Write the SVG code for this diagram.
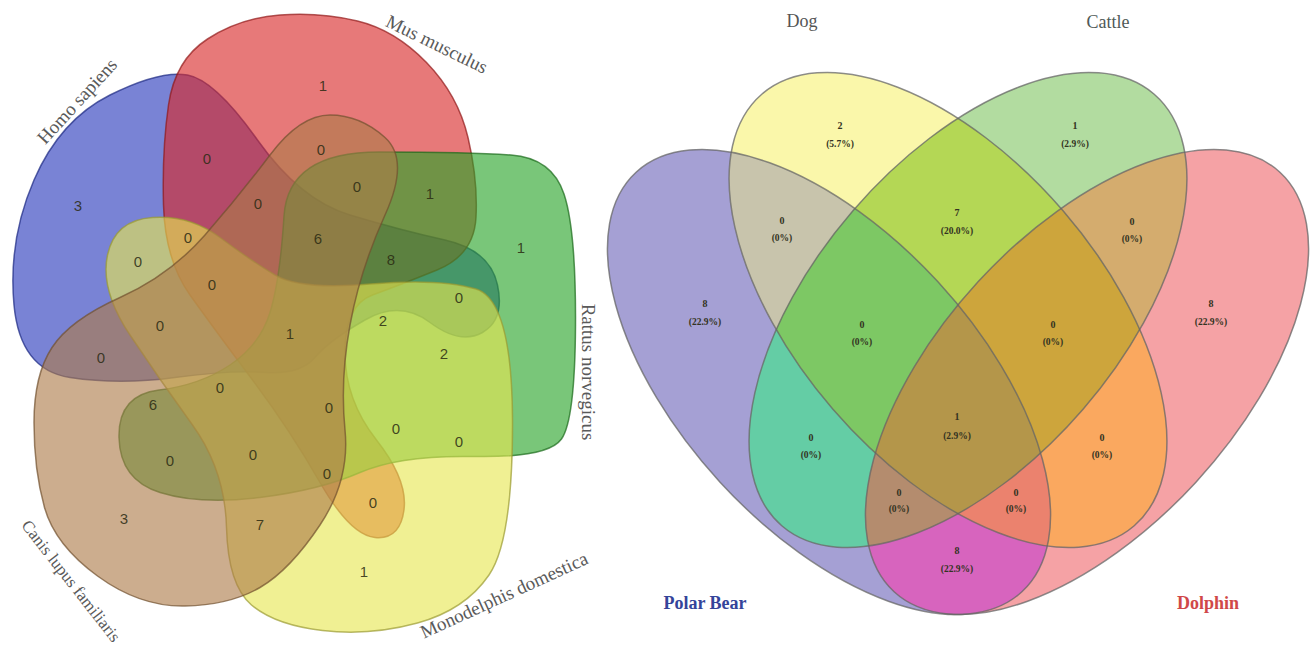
<svg xmlns="http://www.w3.org/2000/svg" xmlns:xlink="http://www.w3.org/1999/xlink" width="1312" height="647" viewBox="0 0 1312 647">
<style>
.lbl{font-family:"Liberation Serif","Times New Roman",serif;font-size:19px;fill:#5a5a5a;text-anchor:middle;dominant-baseline:central}
.cnt{font-family:"Liberation Sans",Arial,sans-serif;font-size:15px;fill:#2a2a12;fill-opacity:0.85;text-anchor:middle;dominant-baseline:central}
.set5{fill-opacity:0.62;stroke-width:1.5;stroke-opacity:0.7}
.ol4{fill:none;stroke:#666;stroke-width:1.5;stroke-opacity:0.75}
.n4{font-family:"Liberation Serif","Times New Roman",serif;font-size:10px;font-weight:bold;fill:#332;text-anchor:middle}
.p4{font-family:"Liberation Serif","Times New Roman",serif;font-size:9.5px;font-weight:bold;fill:#332;text-anchor:middle}
.nm4{font-family:"Liberation Serif","Times New Roman",serif;font-size:18px;text-anchor:middle}
</style>
<defs>
<ellipse id="eA" cx="829" cy="382" rx="285" ry="148" transform="rotate(47.4 829 382)"/>
<ellipse id="eB" cx="948" cy="310" rx="285" ry="152" transform="rotate(49.2 948 310)"/>
<ellipse id="eC" cx="968" cy="310" rx="285" ry="152" transform="rotate(-49.2 968 310)"/>
<ellipse id="eD" cx="1087" cy="382" rx="285" ry="148" transform="rotate(-47.4 1087 382)"/>
<clipPath id="cA"><use xlink:href="#eA"/></clipPath>
<clipPath id="cB"><use xlink:href="#eB"/></clipPath>
<clipPath id="cC"><use xlink:href="#eC"/></clipPath>
<clipPath id="cD"><use xlink:href="#eD"/></clipPath>
</defs>
<rect width="1312" height="647" fill="#fff"/>

<!-- LEFT: five-set diagram -->
<g id="set-homo-sapiens">
<path class="set5" fill="#2637bc" stroke="#1a2680" d="M70,377.5 Q20,370 14,305 Q8,240 34,180 Q60,120 110,95 Q160,70 187.5,75 Q215,80 257.5,140 Q300,200 350,215 Q400,230 445,240 Q490,250 497.5,285 Q505,320 482.5,332.5 Q460,345 430,322.5 Q400,300 365,320 Q330,340 315,357.5 Q300,375 265,372.5 Q230,370 175,377.5 Q120,385 70,377.5 Z"/>
<text class="lbl" transform="translate(77,101) rotate(-47.5)">Homo sapiens</text>
</g>
<g id="set-mus-musculus">
<path class="set5" fill="#d92626" stroke="#901818" d="M190,295 Q165,260 163.5,205 Q162,150 168.5,105 Q175,60 207.5,39 Q240,18 280,15 Q320,12 357.5,21 Q395,30 426.5,62.5 Q458,95 468,137.5 Q478,180 476,217.5 Q474,255 437,270 Q400,285 372.5,295 Q345,305 345,352.5 Q345,400 376.5,440 Q408,480 404,510 Q400,540 375,537.5 Q350,535 320,482.5 Q290,430 252.5,380 Q215,330 190,295 Z"/>
<text class="lbl" transform="translate(437,44) rotate(26)">Mus musculus</text>
</g>
<g id="set-rattus-norvegicus">
<path class="set5" fill="#26a326" stroke="#186818" d="M270,312.5 Q280,280 284,216 Q288,152 379,152 Q470,152 511,155 Q552,158 564,194 Q576,230 575.5,325 Q575,420 561.5,439 Q548,458 474,456.5 Q400,455 360,472.5 Q320,490 260,497.5 Q200,505 160,492.5 Q120,480 119,437.5 Q118,395 159,390 Q200,385 230,365 Q260,345 270,312.5 Z"/>
<text class="lbl" transform="translate(588,372) rotate(90)">Rattus norvegicus</text>
</g>
<g id="set-monodelphis-domestica">
<path class="set5" fill="#e6e650" stroke="#9a9a30" d="M275,275 Q300,290 370,284 Q440,278 476,289 Q512,300 512.5,420 Q513,540 489,575 Q465,610 417.5,623 Q370,636 322.5,630.5 Q275,625 251.5,605 Q228,585 226.5,527.5 Q225,470 192.5,425 Q160,380 130,335 Q100,290 107.5,255 Q115,220 152.5,217.5 Q190,215 220,237.5 Q250,260 275,275 Z"/>
<text class="lbl" transform="translate(504,595) rotate(-24.6)">Monodelphis domestica</text>
</g>
<g id="set-canis-lupus-familiaris">
<path class="set5" fill="#ac7a48" stroke="#70502e" d="M44.5,507.5 Q34,470 34,422.5 Q34,375 52,347.5 Q70,320 120,297.5 Q170,275 205,235 Q240,195 270,155 Q300,115 330,115 Q360,115 385,137.5 Q410,160 385,215 Q360,270 350,325 Q340,380 345,430 Q350,480 320,525 Q290,570 260,587.5 Q230,605 185,606 Q140,607 97.5,576 Q55,545 44.5,507.5 Z"/>
<text class="lbl" style="font-size:17px" transform="translate(71,581) rotate(52)">Canis lupus familiaris</text>
</g>
<g id="counts-left">
<text class="cnt" x="323" y="85">1</text>
<text class="cnt" x="78" y="205">3</text>
<text class="cnt" x="207" y="158">0</text>
<text class="cnt" x="321" y="149">0</text>
<text class="cnt" x="357" y="186">0</text>
<text class="cnt" x="430" y="193">1</text>
<text class="cnt" x="258" y="203">0</text>
<text class="cnt" x="318" y="238">6</text>
<text class="cnt" x="391" y="259">8</text>
<text class="cnt" x="521" y="247">1</text>
<text class="cnt" x="138" y="261">0</text>
<text class="cnt" x="188" y="237">0</text>
<text class="cnt" x="212" y="284">0</text>
<text class="cnt" x="459" y="297">0</text>
<text class="cnt" x="160" y="325">0</text>
<text class="cnt" x="290" y="333">1</text>
<text class="cnt" x="383" y="320">2</text>
<text class="cnt" x="444" y="353">2</text>
<text class="cnt" x="101" y="357">0</text>
<text class="cnt" x="220" y="387">0</text>
<text class="cnt" x="153" y="404">6</text>
<text class="cnt" x="329" y="407">0</text>
<text class="cnt" x="396" y="428">0</text>
<text class="cnt" x="459" y="441">0</text>
<text class="cnt" x="170" y="460">0</text>
<text class="cnt" x="253" y="454">0</text>
<text class="cnt" x="327" y="473">0</text>
<text class="cnt" x="124" y="518">3</text>
<text class="cnt" x="260" y="524">7</text>
<text class="cnt" x="373" y="502">0</text>
<text class="cnt" x="364" y="571">1</text>
</g>

<!-- RIGHT: four-set diagram -->
<g id="regions-right">
<use xlink:href="#eA" fill="#a5a0d4"/>
<use xlink:href="#eB" fill="#faf7aa"/>
<use xlink:href="#eC" fill="#b2dca0"/>
<use xlink:href="#eD" fill="#f5a2a5"/>
<g clip-path="url(#cA)"><use xlink:href="#eB" fill="#c8c4ac"/></g>
<g clip-path="url(#cA)"><use xlink:href="#eC" fill="#64cda5"/></g>
<g clip-path="url(#cA)"><use xlink:href="#eD" fill="#d764be"/></g>
<g clip-path="url(#cB)"><use xlink:href="#eC" fill="#b4d755"/></g>
<g clip-path="url(#cB)"><use xlink:href="#eD" fill="#faa85f"/></g>
<g clip-path="url(#cC)"><use xlink:href="#eD" fill="#d4ac6e"/></g>
<g clip-path="url(#cA)"><g clip-path="url(#cB)"><use xlink:href="#eC" fill="#7dc864"/></g></g>
<g clip-path="url(#cA)"><g clip-path="url(#cB)"><use xlink:href="#eD" fill="#eb826e"/></g></g>
<g clip-path="url(#cA)"><g clip-path="url(#cC)"><use xlink:href="#eD" fill="#b48c6e"/></g></g>
<g clip-path="url(#cB)"><g clip-path="url(#cC)"><use xlink:href="#eD" fill="#cda53c"/></g></g>
<g clip-path="url(#cA)"><g clip-path="url(#cB)"><g clip-path="url(#cC)"><use xlink:href="#eD" fill="#b4964a"/></g></g></g>
</g>
<g id="set-polar-bear">
<use xlink:href="#eA" class="ol4"/>
<text class="nm4" x="705" y="609" font-weight="bold" fill="#34449a">Polar Bear</text>
</g>
<g id="set-dog">
<use xlink:href="#eB" class="ol4"/>
<text class="nm4" x="802" y="27" fill="#555">Dog</text>
</g>
<g id="set-cattle">
<use xlink:href="#eC" class="ol4"/>
<text class="nm4" x="1108" y="28" fill="#4f5a58">Cattle</text>
</g>
<g id="set-dolphin">
<use xlink:href="#eD" class="ol4"/>
<text class="nm4" x="1208" y="609" font-weight="bold" fill="#d04848">Dolphin</text>
</g>
<g id="counts-right">
<text class="n4" x="705" y="307">8</text><text class="p4" x="705" y="325">(22.9%)</text>
<text class="n4" x="840" y="129">2</text><text class="p4" x="840" y="147">(5.7%)</text>
<text class="n4" x="1075" y="129">1</text><text class="p4" x="1075" y="147">(2.9%)</text>
<text class="n4" x="1211" y="307">8</text><text class="p4" x="1211" y="325">(22.9%)</text>
<text class="n4" x="782" y="224">0</text><text class="p4" x="782" y="241">(0%)</text>
<text class="n4" x="957" y="216">7</text><text class="p4" x="957" y="234">(20.0%)</text>
<text class="n4" x="1132" y="225">0</text><text class="p4" x="1132" y="242">(0%)</text>
<text class="n4" x="862" y="328">0</text><text class="p4" x="862" y="345">(0%)</text>
<text class="n4" x="1053" y="328">0</text><text class="p4" x="1053" y="345">(0%)</text>
<text class="n4" x="811" y="441">0</text><text class="p4" x="811" y="458">(0%)</text>
<text class="n4" x="1102" y="441">0</text><text class="p4" x="1102" y="458">(0%)</text>
<text class="n4" x="957" y="420">1</text><text class="p4" x="957" y="439">(2.9%)</text>
<text class="n4" x="899" y="496">0</text><text class="p4" x="899" y="512">(0%)</text>
<text class="n4" x="1016" y="496">0</text><text class="p4" x="1016" y="512">(0%)</text>
<text class="n4" x="957" y="554">8</text><text class="p4" x="957" y="572">(22.9%)</text>
</g>
</svg>
